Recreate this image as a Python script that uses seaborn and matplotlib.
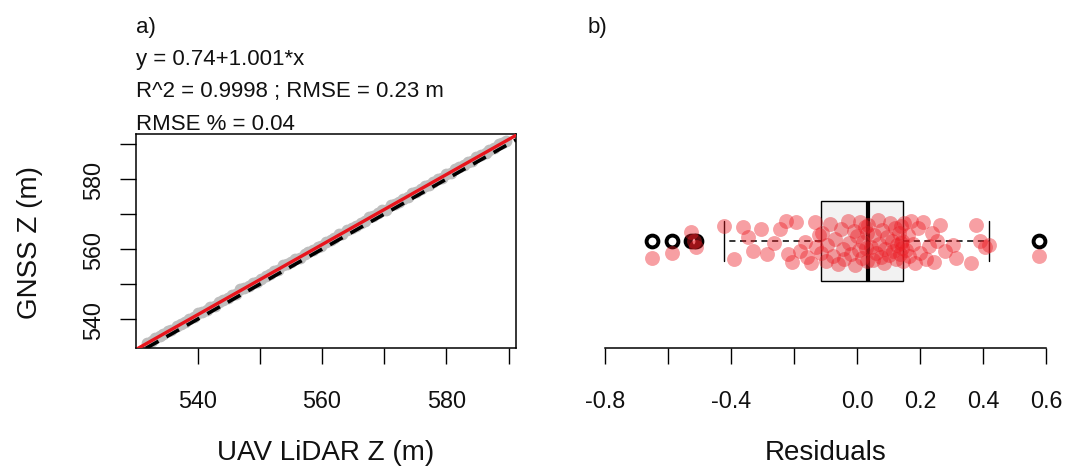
import matplotlib
matplotlib.use('Agg')
import matplotlib.pyplot as plt
import seaborn as sns

# Panel a: UAV LiDAR vs GNSS heights (m)
lidar_z = [531.8, 532.6, 533.1, 533.9, 534.5, 535.2, 535.8, 536.7, 537.3, 538.0,
           538.6, 539.4, 540.1, 540.7, 541.5, 542.0, 542.8, 543.5, 544.1, 544.9,
           545.6, 546.2, 546.9, 547.5, 548.3, 548.9, 549.6, 550.2, 551.0, 551.7,
           552.3, 553.0, 553.8, 554.4, 555.1, 555.7, 556.5, 557.2, 557.8, 558.6,
           559.3, 559.9, 560.6, 561.4, 562.0, 562.7, 563.3, 564.1, 564.8, 565.4,
           566.2, 566.9, 567.5, 568.2, 569.0, 569.6, 570.3, 571.1, 571.7, 572.4,
           573.0, 573.8, 574.5, 575.1, 575.9, 576.6, 577.2, 577.9, 578.7, 579.3,
           580.0, 580.8, 581.4, 582.1, 582.9, 583.5, 584.2, 584.8, 585.6, 586.3,
           586.9, 587.7, 588.4, 589.0, 589.6]
gnss_z = [533.2, 533.7, 534.7, 535.2, 535.7, 536.7, 536.8, 538.1, 538.6, 539.1,
          540.0, 540.5, 541.7, 542.0, 542.7, 543.5, 543.8, 544.9, 545.4, 546.0,
          547.0, 547.3, 548.5, 548.8, 549.5, 550.4, 550.6, 551.6, 552.3, 552.8,
          553.7, 554.1, 555.4, 555.7, 556.3, 557.2, 557.5, 558.6, 559.1, 559.7,
          560.7, 561.0, 562.2, 562.7, 563.2, 564.2, 564.3, 565.5, 566.1, 566.5,
          567.6, 568.0, 569.1, 569.5, 570.2, 571.1, 571.3, 572.5, 573.0, 573.5,
          574.4, 574.9, 576.1, 576.4, 577.1, 578.1, 578.2, 579.3, 580.0, 580.4,
          581.4, 581.9, 583.0, 583.4, 584.1, 585.0, 585.2, 586.2, 586.9, 587.4,
          588.3, 588.8, 590.0, 590.3, 590.8]
fit_intercept = 0.74
fit_slope = 1.001
z_ticks = [540, 550, 560, 570, 580, 590]
z_labels = ['540', '', '560', '', '580', '']
stats_lines = ['y = 0.74+1.001*x', 'R^2 = 0.9998 ; RMSE = 0.23 m', 'RMSE % = 0.04']

# Panel b: residuals (m) and the vertical jitter of each point
residuals = [-0.651, -0.585, -0.525, -0.518, -0.512, -0.421, -0.390, -0.363, -0.346, -0.330,
             -0.303, -0.287, -0.262, -0.245, -0.226, -0.219, -0.205, -0.192, -0.182, -0.166,
             -0.160, -0.145, -0.134, -0.130, -0.122,
             -0.115, -0.110, -0.100, -0.095, -0.085, -0.075, -0.070, -0.060, -0.050, -0.045,
             -0.040, -0.030, -0.025, -0.020, -0.010, -0.005, 0.000, 0.005, 0.010, 0.015,
             0.020, 0.025, 0.028, 0.030, 0.033,
             0.035, 0.045, 0.050, 0.055, 0.060, 0.065, 0.070, 0.075, 0.080, 0.085,
             0.090, 0.095, 0.100, 0.105, 0.110, 0.115, 0.120, 0.125, 0.128, 0.132,
             0.135, 0.138, 0.140, 0.142, 0.143,
             0.146, 0.150, 0.155, 0.160, 0.165, 0.172, 0.178, 0.185, 0.193, 0.200,
             0.210, 0.220, 0.228, 0.236, 0.245, 0.252, 0.262, 0.280, 0.303, 0.315,
             0.362, 0.378, 0.389, 0.405, 0.418, 0.577]
jitter = [0.085, 0.060, -0.045, 0.000, 0.030, -0.077, 0.091, -0.072, -0.020, 0.049,
          -0.060, 0.066, 0.010, -0.060, -0.100, 0.066, 0.105, -0.095, 0.049, 0.005,
          0.080, 0.110, -0.095, 0.030, -0.030,
          0.060, -0.040, 0.100, 0.020, -0.085, 0.075, -0.010, 0.115, -0.060, 0.040,
          0.090, -0.100, 0.010, 0.065, -0.050, 0.120, -0.025, 0.045, -0.095, 0.085,
          0.005, -0.070, 0.035, 0.100, -0.040,
          -0.080, 0.030, 0.095, -0.030, 0.060, -0.105, 0.015, 0.080, -0.055, 0.110,
          0.040, -0.020, 0.070, -0.090, 0.000, 0.050, -0.065, 0.090, 0.020, -0.040,
          0.065, 0.010, -0.075, 0.035, 0.000,
          0.100, -0.090, 0.045, -0.030, 0.075, -0.100, 0.015, 0.110, -0.065, 0.060,
          -0.095, 0.090, 0.025, -0.040, 0.105, 0.000, -0.080, 0.050, 0.020, 0.085,
          0.110, -0.080, 0.000, 0.030, 0.020, 0.075]
res_ticks = [-0.8, -0.6, -0.4, -0.2, 0.0, 0.2, 0.4, 0.6]
res_labels = ['-0.8', '', '-0.4', '', '0.0', '0.2', '0.4', '0.6']

sns.set_theme(style='ticks')
plt.rcParams['font.family'] = ['Liberation Sans', 'DejaVu Sans']
FS_TICK = 16.8   # tick labels
FS_LAB = 20      # axis titles
FS_TXT = 16      # panel letters and fit statistics
TXT = '#111111'

W, H = 1065, 477
fig = plt.figure(figsize=(W / 100, H / 100), dpi=100)
ax_a = fig.add_axes([136 / W, 1 - 349.3 / H, 380 / W, 214.3 / H])
ax_b = fig.add_axes([587 / W, 1 - 349.3 / H, 477 / W, 214.3 / H])

# --- a) scatter with fit line and 1:1 line
sns.scatterplot(x=lidar_z, y=gnss_z, color='#bebebe', s=72, linewidth=0,
                ax=ax_a, zorder=2)
ax_a.axline((540, 540), slope=1, color='black', lw=2.6, ls=(0, (4, 2.5)), zorder=3)
ax_a.axline((0, fit_intercept), slope=fit_slope, color='#e8141c', lw=2.4, zorder=4)
ax_a.set_xlim(530.1, 591.2)
ax_a.set_ylim(531.7, 592.9)
ax_a.set_xticks(z_ticks)
ax_a.set_xticklabels(z_labels)
ax_a.set_yticks(z_ticks)
ax_a.set_yticklabels(z_labels, rotation=90, va='center')
for sp in ax_a.spines.values():
    sp.set_visible(True)
    sp.set_linewidth(1.1)
    sp.set_color('black')
ax_a.tick_params(length=11.5, width=1, color='black', labelsize=FS_TICK, labelcolor=TXT)
ax_a.tick_params(axis='x', pad=17.5)
ax_a.tick_params(axis='y', pad=11)
ax_a.set_xlabel('UAV LiDAR Z (m)', fontsize=FS_LAB, labelpad=20, color=TXT)
ax_a.set_ylabel('GNSS Z (m)', fontsize=FS_LAB, labelpad=28, color=TXT)

# --- b) boxplot of residuals with jittered points
sns.boxplot(x=residuals, orient='h', ax=ax_b, width=0.4, whis=1.5,
            color='#f2f2f2', saturation=1, linecolor='black', linewidth=1,
            whiskerprops={'linestyle': (0, (4, 3)), 'linewidth': 1.1},
            medianprops={'linewidth': 3},
            flierprops={'marker': 'o', 'markerfacecolor': 'none',
                        'markeredgecolor': 'black', 'markersize': 8.5,
                        'markeredgewidth': 2.8},
            zorder=2)
sns.scatterplot(x=residuals, y=jitter, color='#ec1c24', alpha=0.42, s=115,
                linewidth=0, ax=ax_b, zorder=5)
ax_b.set_xlim(-0.856, 0.656)
ax_b.set_ylim(0.54, -0.54)
ax_b.set_xticks(res_ticks)
ax_b.set_xticklabels(res_labels)
ax_b.set_yticks([])
for side in ['top', 'right', 'left']:
    ax_b.spines[side].set_visible(False)
ax_b.spines['bottom'].set_bounds(-0.8, 0.6)
ax_b.spines['bottom'].set_linewidth(1.1)
ax_b.spines['bottom'].set_color('black')
ax_b.tick_params(axis='x', length=11.5, width=1, color='black', labelsize=FS_TICK,
                 pad=17.5, labelcolor=TXT)
ax_b.set_xlabel('Residuals', fontsize=FS_LAB, labelpad=20, color=TXT)
ax_b.set_ylabel('')

# --- panel letters and fit statistics
fig.text(136 / W, 1 - 33 / H, 'a)', fontsize=FS_TXT, va='baseline', color=TXT)
fig.text(588 / W, 1 - 33 / H, 'b)', fontsize=FS_TXT, va='baseline', color=TXT)
for i, line in enumerate(stats_lines):
    fig.text(136 / W, 1 - (65 + 32.5 * i) / H, line, fontsize=FS_TXT,
             va='baseline', color=TXT)

fig.savefig('out.png', dpi=100)
